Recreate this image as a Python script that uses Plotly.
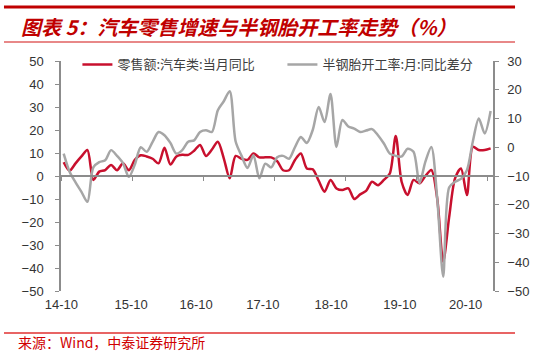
import plotly.graph_objects as go

# month index 0 = 2014-10 ... 72 = 2020-10
months = list(range(73))

retail_yoy = [6, 2.3, 5.5, 8.5, 11.3, -1.7, 1.9, 2.6, 4.8, 2.5,
              5.5, 2.5, 7, 9, 8.5, 7.5, 5.5, 12.3, 5, 8.5,
              9.2, 9.2, 11, 13.5, 8.7, 11.5, 14.9, 7.7, -1, 8.7,
              7.5, 7, 9.8, 8.1, 8.1, 8.1, 6.5, 2.5, 2.5, 7,
              9.8, 3.3, 2.9, -2, -6.8, -1.7, -5.4, -6.1, -5.4, -10,
              -8, -6.5, -2.5, -4, -1.7, 1.1, 17.4, -2.6, -8.3, -1.7,
              -3.2, 0, 2.6, -10, -37.3, -18, -1, 3.3, -8.3, 12.7,
              11.3, 11.3, 12]

tire_diff = [-2.2, -8.5, -12.2, -15.5, -19, -7, -5.2, -4.5, -1, -3,
             -5.5, -10.3, -6, 0, -1.6, 1.9, 5.3, 4.2, 1.5, -2.2,
             -1, 1.9, 2.4, 5.3, 5.9, 5.3, 12.9, 16, 19.5, 2,
             -3, -7.2, -2.8, -10.8, -5.7, -7, -3.5, -3, -4, 0,
             3.6, 1.5, 6, 14, 8.8, 18.5, 0.1, 9.5, 7.2, 6.5,
             5.3, 5.8, 6.3, 4.2, 1.3, -2.2, -3, -3.2, -0.5, -1.6,
             -12.5, -5, 0.1, -18, -45, -14, -12, -11, -8, 2,
             10, 4.8, 12.6]

tick_labels = ["14-10", "15-10", "16-10", "17-10", "18-10", "19-10", "20-10"]
label_pos = [-0.4, 11.39, 22.34, 33.6, 45.1, 56.7, 67.8]
tick_marks = [-0.45, 11.55, 23.55, 35.55, 47.55, 59.55, 71.55]

name_retail = "零售额:汽车类:当月同比"
name_tire = "半钢胎开工率:月:同比差分"

RED = "#C8102E"
GRAY = "#A6A6A6"
AXIS = "#8C8C8C"
XR = [-0.45, 72.4]

fig = go.Figure()
fig.add_trace(go.Scatter(x=months, y=retail_yoy, name=name_retail, mode="lines",
                         line=dict(color=RED, width=2.5, shape="spline", smoothing=0.8),
                         yaxis="y", xaxis="x"))
fig.add_trace(go.Scatter(x=months, y=tire_diff, name=name_tire, mode="lines",
                         line=dict(color=GRAY, width=2.5, shape="spline", smoothing=0.8),
                         yaxis="y2", xaxis="x"))
# carrier for the zero-level axis line
fig.add_trace(go.Scatter(x=[XR[0]], y=[0], mode="markers", marker=dict(opacity=0),
                         showlegend=False, hoverinfo="skip", xaxis="x3", yaxis="y"))

tick_font = dict(family="Liberation Sans, Arial", size=13, color="#333333")

fig.update_layout(
    width=550, height=353,
    margin=dict(l=61, r=57, t=61, b=62),
    paper_bgcolor="white", plot_bgcolor="white",
    showlegend=True,
    legend=dict(orientation="h", x=0.038, y=0.985, xanchor="left", yanchor="middle",
                font=dict(family="Noto Sans CJK SC", size=13, color="#404040"),
                bgcolor="rgba(0,0,0,0)", entrywidth=160, entrywidthmode="pixels",
                itemwidth=30, traceorder="normal"),
    xaxis=dict(range=XR, tickmode="array", tickvals=label_pos, ticktext=tick_labels,
               showline=False, ticks="", showgrid=False, zeroline=False,
               tickfont=tick_font, ticklabelstandoff=4),
    xaxis3=dict(range=XR, overlaying="x", anchor="free", position=0.5,
                showline=True, linecolor=AXIS, linewidth=1.5,
                tickmode="array", tickvals=tick_marks, ticks="outside", ticklen=4,
                tickcolor=AXIS, tickwidth=1, showticklabels=False,
                showgrid=False, zeroline=False),
    yaxis=dict(range=[-50, 50], dtick=10, tick0=0, showline=True, linecolor=AXIS,
               linewidth=1.5, ticks="outside", ticklen=4, tickcolor=AXIS,
               showgrid=False, zeroline=False, tickfont=tick_font,
               ticklabelstandoff=9),
    yaxis2=dict(range=[-50, 30], dtick=10, tick0=0, overlaying="y", side="right",
                showline=True, linecolor=AXIS, linewidth=1.5, ticks="outside",
                ticklen=4, tickcolor=AXIS, showgrid=False, zeroline=False,
                tickfont=tick_font, ticklabelstandoff=6),
)

# header / footer rules
fig.add_shape(type="line", xref="paper", yref="paper", x0=-0.132, x1=1.051,
              y0=1.2348, y1=1.2348, line=dict(color="#C00000", width=3))
fig.add_shape(type="line", xref="paper", yref="paper", x0=-0.132, x1=1.051,
              y0=1.0826, y1=1.0826, line=dict(color="#E06060", width=1.5))
fig.add_shape(type="line", xref="paper", yref="paper", x0=-0.132, x1=1.051,
              y0=-0.1826, y1=-0.1826, line=dict(color="#E03030", width=1.5))

fig.add_annotation(text="图表 5：汽车零售增速与半钢胎开工率走势（%）",
                   xref="paper", yref="paper", x=(19 - 61) / 432, y=(291 - 26) / 230,
                   xanchor="left", yanchor="middle", showarrow=False,
                   font=dict(family="Noto Sans CJK SC", size=20, color="#C00000",
                             weight="bold", style="italic"))
fig.add_annotation(text="来源：Wind，中泰证券研究所",
                   xref="paper", yref="paper", x=(16 - 61) / 432, y=(291 - 342) / 230,
                   xanchor="left", yanchor="middle", showarrow=False,
                   font=dict(family="Noto Sans CJK SC", size=14, color="#D00000"))

fig.write_html("out.html")
